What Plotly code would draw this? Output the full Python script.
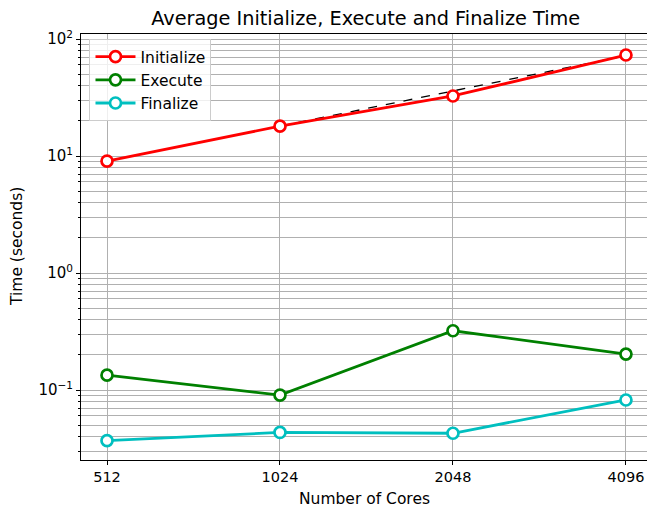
import plotly.graph_objects as go

cores = [512, 1024, 2048, 4096]
initialize = [9.06, 18.0, 32.6, 73.0]
execute = [0.134, 0.0906, 0.321, 0.203]
finalize = [0.0369, 0.0434, 0.0427, 0.0822]
ideal_cores = [1024, 2048, 4096]
ideal = [18.0, 36.0, 72.0]

ytick_vals = [0.1, 1, 10, 100]
ytick_text = ["10<sup>\u22121</sup>", "10<sup>0</sup>", "10<sup>1</sup>", "10<sup>2</sup>"]

fig = go.Figure()

fig.add_trace(go.Scatter(x=ideal_cores, y=ideal, mode="lines",
                         line=dict(color="black", width=1.3, dash="dash"),
                         showlegend=False, hoverinfo="skip"))

for name, vals, col in [("Initialize", initialize, "#ff0000"),
                        ("Execute", execute, "#008000"),
                        ("Finalize", finalize, "#00bfbf")]:
    fig.add_trace(go.Scatter(x=cores, y=vals, mode="lines+markers", name=name,
                             line=dict(color=col, width=2.8),
                             marker=dict(symbol="circle", size=11, color="white",
                                         line=dict(color=col, width=2.7))))

fig.update_layout(
    width=647, height=508,
    margin=dict(l=81, r=0, t=34, b=48, autoexpand=False),
    paper_bgcolor="white", plot_bgcolor="white",
    font=dict(family="DejaVu Sans", size=15, color="black"),
    title=dict(text="Average Initialize, Execute and Finalize Time",
               x=0.503, xanchor="center", xref="paper", y=0.9646, yanchor="middle",
               font=dict(size=19.3)),
    legend=dict(x=0.015, y=0.988, xanchor="left", yanchor="top",
                bgcolor="rgba(255,255,255,0.8)", bordercolor="#cccccc", borderwidth=1,
                font=dict(size=15.5), tracegroupgap=0, itemwidth=40),
    showlegend=True,
    annotations=[
        dict(text="Number of Cores", xref="paper", yref="paper", x=0.5, y=0,
             yshift=-39, xanchor="center", yanchor="middle", showarrow=False,
             font=dict(size=15.5)),
        dict(text="Time (seconds)", xref="paper", yref="paper", x=0, y=0.5,
             xshift=-64, xanchor="center", yanchor="middle", showarrow=False,
             textangle=-90, font=dict(size=15.5)),
    ],
)

fig.update_xaxes(type="log", range=[2.664, 3.649], automargin=False,
                 tickvals=cores, ticktext=[str(c) for c in cores],
                 tickfont=dict(size=14.5),
                 showgrid=True, gridcolor="#b0b0b0", gridwidth=1,
                 showline=True, linecolor="black", linewidth=1, mirror=True,
                 ticks="outside", ticklen=4, tickcolor="black",
                 zeroline=False)

fig.update_yaxes(type="log", range=[-1.598, 2.043], automargin=False,
                 tickvals=ytick_vals, ticktext=ytick_text,
                 tickfont=dict(size=15),
                 showgrid=True, gridcolor="#b0b0b0", gridwidth=1,
                 showline=True, linecolor="black", linewidth=1, mirror=False,
                 ticks="outside", ticklen=4, tickcolor="black",
                 minor=dict(dtick="D1", showgrid=True, gridcolor="#b0b0b0", gridwidth=1,
                            ticks="outside", ticklen=2, tickcolor="black"),
                 zeroline=False)

# drop the default page margin so the figure fills the window exactly
fig.write_html("out.html", config={"displayModeBar": False},
               post_script="document.body.style.margin='0';document.body.style.overflow='hidden';")
